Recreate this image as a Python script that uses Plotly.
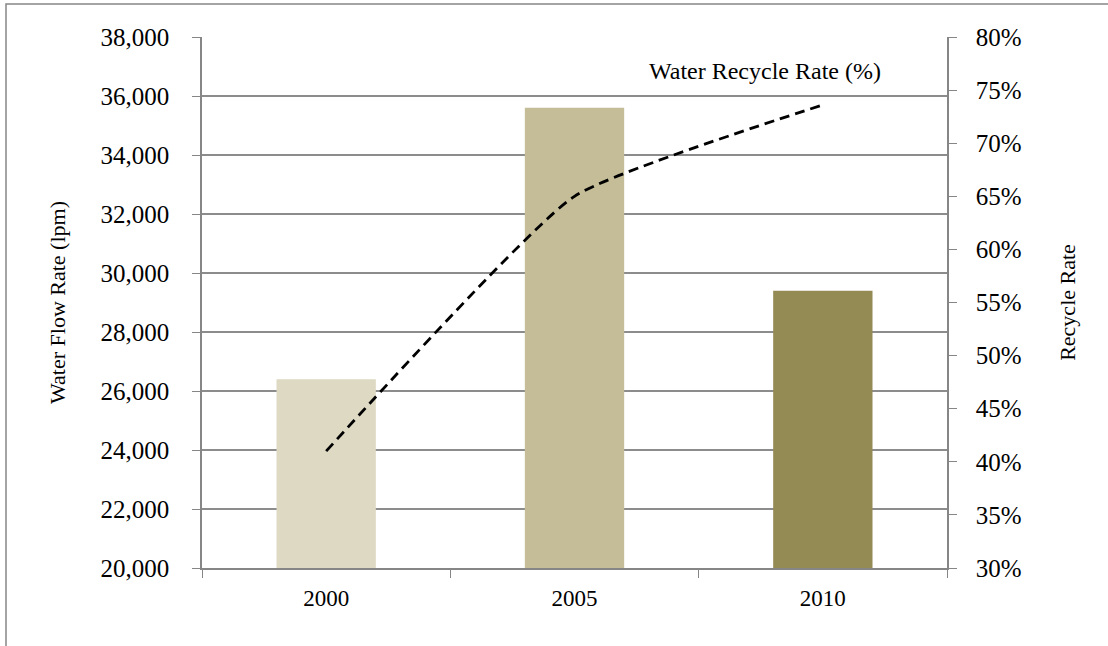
import plotly.graph_objects as go

years = ["2000", "2005", "2010"]
flow_lpm = [26400, 35600, 29400]
recycle_rate = [0.41, 0.65, 0.736]
bar_colors = ["#DDD9C3", "#C4BD97", "#948A54"]

W, H = 1108, 646
L, R, T, B = 202, 161, 37, 78
pw, ph = W - L - R, H - T - B

def px_x(x):
    return (x - L) / pw

def px_y(y):
    return (H - B - y) / ph

fig = go.Figure()
fig.add_trace(go.Bar(x=years, y=flow_lpm, marker=dict(color=bar_colors, line=dict(width=0)),
                     yaxis="y", showlegend=False))
fig.add_trace(go.Scatter(x=years, y=recycle_rate, mode="lines", yaxis="y2",
                         line=dict(color="black", width=2.8, dash="10px,6px", shape="spline", smoothing=0.45),
                         showlegend=False))

font = "Liberation Serif, Times New Roman, serif"
fig.update_layout(
    width=W, height=H,
    margin=dict(l=L, r=R, t=T, b=B, pad=0),
    paper_bgcolor="white", plot_bgcolor="white",
    font=dict(family=font, color="black", size=24),
    bargap=0.6,
    xaxis=dict(type="category", showline=True, linecolor="#868686", linewidth=1.5,
               ticks="outside", tickson="boundaries", ticklen=8, tickcolor="#868686",
               tickfont=dict(size=23), ticklabelstandoff=9, showgrid=False),
    yaxis=dict(range=[20000, 38000], dtick=2000, tickformat=",d",
               showline=True, linecolor="#868686", linewidth=1.5,
               ticks="outside", ticklen=8, tickcolor="#868686",
               showgrid=True, gridcolor="#8C8C8C", gridwidth=1.5,
               tickfont=dict(size=25), ticklabelstandoff=18,
               title=dict(text="Water Flow Rate (lpm)", font=dict(size=22), standoff=29)),
    yaxis2=dict(range=[0.30, 0.80], dtick=0.05, tickformat=".0%", overlaying="y", side="right",
                showline=True, linecolor="#868686", linewidth=1.5,
                ticks="outside", ticklen=8, tickcolor="#868686", showgrid=False,
                tickfont=dict(size=25), ticklabelstandoff=14,
                title=dict(text="Recycle Rate", font=dict(size=22), standoff=39)),
    annotations=[dict(text="Water Recycle Rate (%)", xref="paper", yref="paper",
                      x=px_x(765), y=px_y(71), xanchor="center", yanchor="middle",
                      showarrow=False, font=dict(size=24, family=font))],
    shapes=[dict(type="rect", xref="paper", yref="paper",
                 x0=px_x(6), x1=px_x(1120), y0=px_y(660), y1=px_y(4),
                 line=dict(color="#868686", width=1.5), fillcolor="rgba(0,0,0,0)", layer="below")],
)

fig.write_html("out.html")
